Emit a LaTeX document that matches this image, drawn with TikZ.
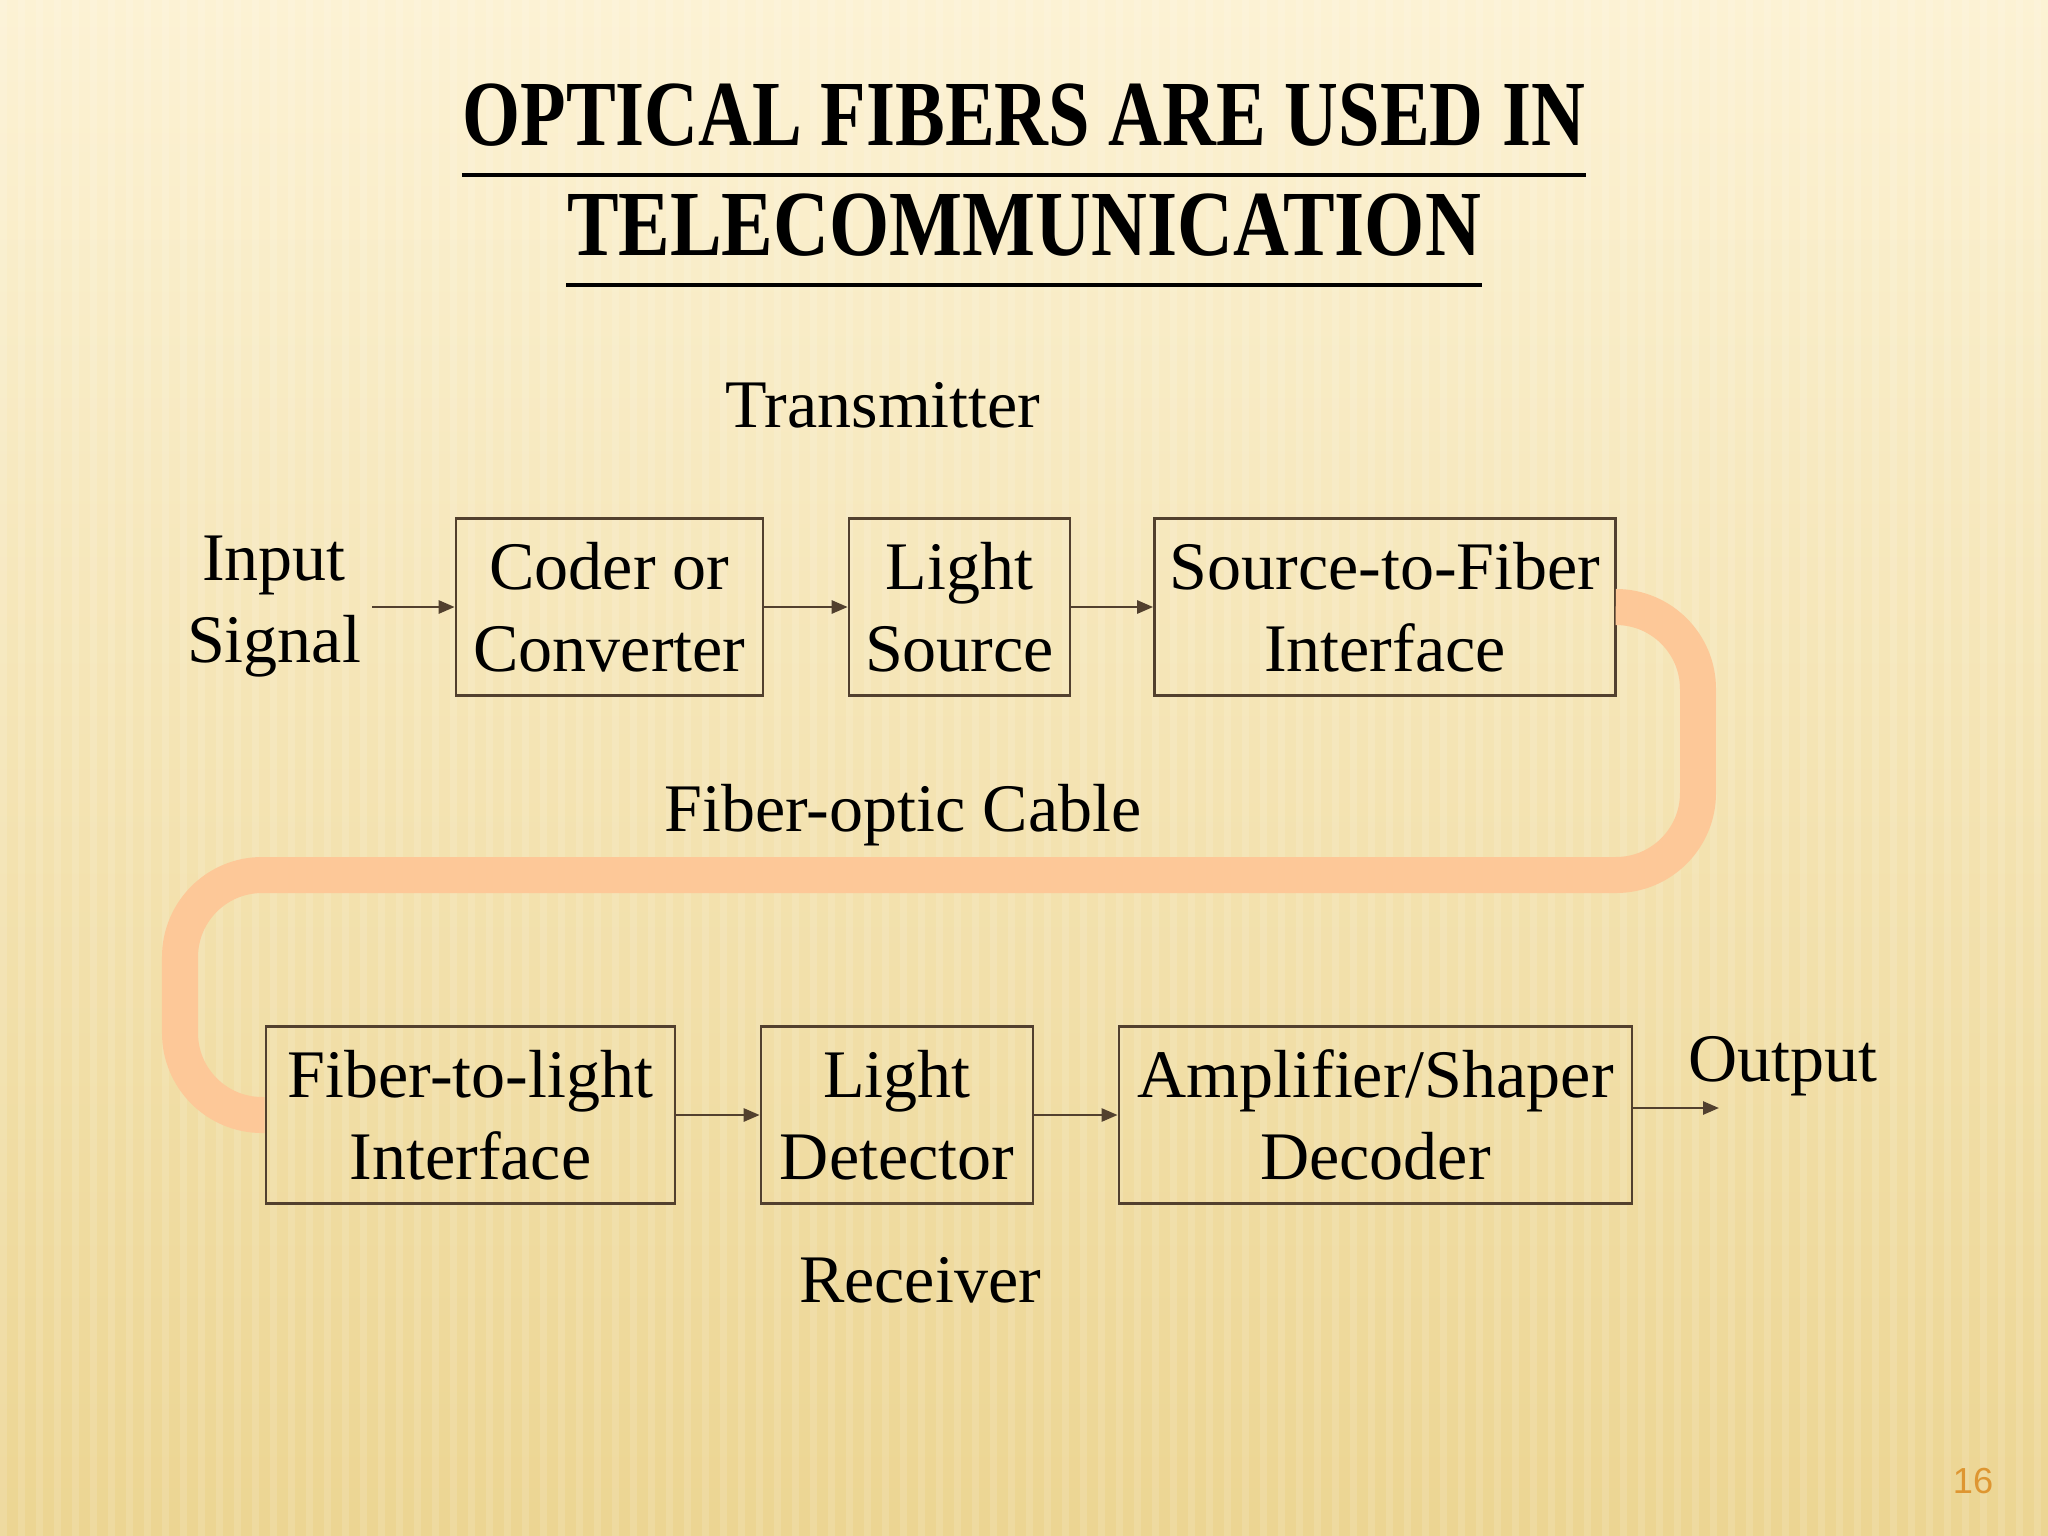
\documentclass[tikz,border=0pt]{standalone}
\usepackage{fontspec}
\usepackage{graphicx}
\setmainfont{Liberation Serif}
\newfontfamily\numfont{Liberation Sans}
\usetikzlibrary{arrows.meta,calc}

\definecolor{bgtop}{RGB}{252,242,212}
\definecolor{bgbot}{RGB}{236,213,146}
\definecolor{boxline}{RGB}{82,64,46}
\definecolor{cablecol}{RGB}{253,200,152}
\definecolor{pagenum}{RGB}{222,150,50}

\newcommand{\labelsize}{\fontsize{19.35pt}{23.3pt}\selectfont}
\newcommand{\titlesize}{\fontsize{26.5pt}{31pt}\selectfont\bfseries}

\tikzset{
  block/.style={draw=boxline, line width=0.7pt, align=center, inner sep=0pt, minimum height=1.77cm, font=\labelsize},
  plain/.style={align=center, font=\labelsize},
  flow/.style={->, draw=boxline, line width=0.75pt},
  cable/.style={draw=cablecol, line width=0.36cm, rounded corners=0.82cm},
  uline/.style={line width=1.4pt},
}

\begin{document}
\begin{tikzpicture}[x=0.01cm, y=-0.01cm, >={Triangle[length=0.16cm,width=0.13cm]}]
    % background
    \useasboundingbox (0,0) rectangle (2048,1536);
    \shade[top color=bgtop, bottom color=bgbot] (0,0) rectangle (2048,1536);
    \foreach \x in {0,18,...,2040}
        \fill[white, opacity=0.12] (\x,0) rectangle ++(7,1536);

    % title
    \node[anchor=base, font=\titlesize, inner sep=0pt] (title1) at (1024,145) {\scalebox{0.8}[1]{OPTICAL FIBERS ARE USED IN}};
    \node[anchor=base, font=\titlesize, inner sep=0pt] (title2) at (1024,255) {\scalebox{0.83}[1]{TELECOMMUNICATION}};
    \draw[uline] ($(title1.base west)+(0,30)$) -- ($(title1.base east)+(0,30)$);
    \draw[uline] ($(title2.base west)+(0,30)$) -- ($(title2.base east)+(0,30)$);

    % transmitter row
    \node[plain, anchor=base] (tx) at (883,427) {Transmitter};
    \node[plain, inner sep=3pt] (input) at (274,607) {Input\\Signal};
    \node[block, minimum width=3.07cm] (coder) at (609.5,607) {Coder or\\Converter};
    \node[block, minimum width=2.21cm] (lsrc) at (959.5,607) {Light\\Source};
    \node[block, minimum width=4.61cm] (srcfib) at (1385,607) {Source-to-Fiber\\Interface};

    % cable label
    \node[plain, anchor=base] (cablelbl) at (903,831) {Fiber-optic Cable};

    % receiver row
    \node[block, minimum width=4.09cm] (fibl) at (470.5,1115) {Fiber-to-light\\Interface};
    \node[block, minimum width=2.72cm] (det) at (897,1115) {Light\\Detector};
    \node[block, minimum width=5.13cm] (amp) at (1375.5,1115) {Amplifier/Shaper\\Decoder};
    \node[plain, anchor=base] (output) at (1783,1081) {Output};
    \node[plain, anchor=base] (rx) at (920,1302) {Receiver};
    \coordinate (outend) at (1719,1108);

    % signal arrows
    \draw[flow] (input) -- (coder);
    \draw[flow] (coder) -- (lsrc);
    \draw[flow] (lsrc) -- (srcfib);
    \draw[flow] (fibl) -- (det);
    \draw[flow] (det) -- (amp);
    \draw[flow] (amp.east |- outend) -- (outend);

    % the fiber
    \coordinate (bendR) at (1698,875);
    \coordinate (bendL) at (180,1115);
    \draw[cable] (srcfib.east) -| (bendR) -| (bendL) -- (fibl.west);

    \node[font=\numfont\fontsize{10.3pt}{12pt}\selectfont, text=pagenum] (pgnum) at (1973,1481) {16};
\end{tikzpicture}
\end{document}
